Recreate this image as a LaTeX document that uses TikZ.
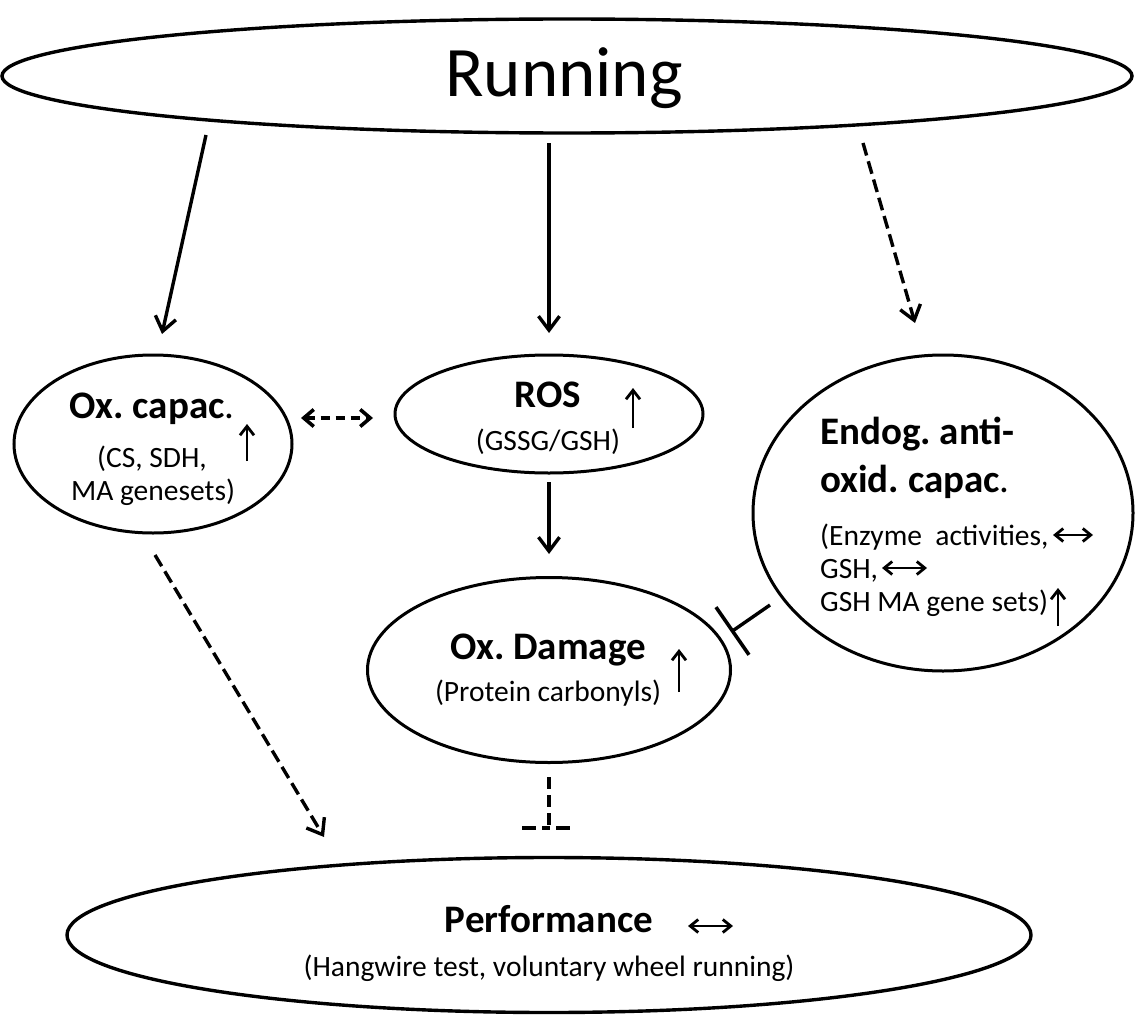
\documentclass[tikz,border=0pt]{standalone}
\usepackage{fontspec}
\setmainfont{Carlito}
\usetikzlibrary{shapes.geometric,arrows.meta}
\frenchspacing
\begin{document}
\begin{tikzpicture}[x=1pt,y=-1pt,
  ell/.style={ellipse, draw, line width=3pt, inner sep=0pt},
  arr/.style={line width=3.4pt, -{Straight Barb[length=14pt,width=21pt]}},
  darr/.style={arr, dash pattern=on 13pt off 6pt},
  biarr/.style={line width=3.6pt, dash pattern=on 9pt off 6pt, {Straight Barb[length=10pt,width=17pt]}-{Straight Barb[length=10pt,width=17pt]}},
  up/.style={line width=2.8pt, -{Straight Barb[length=9pt,width=14pt]}},
  lr/.style={line width=2.8pt, {Straight Barb[length=8pt,width=13pt]}-{Straight Barb[length=8pt,width=13pt]}},
  ttl/.style={font=\fontsize{39}{42}\selectfont\bfseries, inner sep=0pt, anchor=base},
  sub/.style={font=\fontsize{29.5}{32}\selectfont, inner sep=0pt, anchor=base},
]
\useasboundingbox (0,0) rectangle (1137,1014);
% ellipses
\node[ell, line width=3.4pt, minimum width=1130pt, minimum height=114pt] (running) at (567,76) {};
\node[ell, minimum width=278pt, minimum height=178pt] (oxcap) at (153,444) {};
\node[ell, minimum width=308pt, minimum height=118pt] (ros) at (549,414) {};
\node[ell, minimum width=380pt, minimum height=316pt] (endog) at (943,513) {};
\node[ell, minimum width=363pt, minimum height=185pt] (oxd) at (549,670) {};
\node[ell, line width=3.4pt, minimum width=964pt, minimum height=155pt] (perf) at (549,935) {};
% texts
\node[inner sep=0pt, anchor=base, font=\fontsize{71}{75}\selectfont] (trun) at (564,97) {Running};
\node[ttl] (toxcap) at (152,418) {Ox. capac\textmd{.}};
\node[sub] (toxcap2) at (152,467) {(CS, SDH,};
\node[sub] (toxcap3) at (153,500) {MA genesets)};
\node[ttl] (tros) at (548,407) {ROS};
\node[sub] (tros2) at (548,450) {(GSSG/GSH)};
\node[ttl, anchor=base west] (tend1) at (820,444) {Endog. anti-};
\node[ttl, anchor=base west] (tend2) at (820,492) {oxid. capac\textmd{.}};
\node[sub, anchor=base west] (tend3) at (820,545) {(Enzyme\ \ activities,};
\node[sub, anchor=base west] (tend4) at (820,578) {GSH,};
\node[sub, anchor=base west] (tend5) at (820,611) {GSH MA gene sets)};
\node[ttl] (toxd) at (548,659) {Ox. Damage};
\node[sub] (toxd2) at (548,701) {(Protein carbonyls)};
\node[ttl] (tperf) at (549,932) {Performance};
\node[sub] (tperf2) at (549,976) {(Hangwire test, voluntary wheel running)};
% small level arrows
\draw[up] (247,461) -- (247,424);
\draw[up] (633,428) -- (633,388);
\draw[up] (679,692) -- (679,649);
\draw[up] (1058,626) -- (1058,588);
\draw[lr] (1053,535) -- (1093,535);
\draw[lr] (882,568) -- (927,568);
\draw[lr] (688,926) -- (733,926);
% connectors
\coordinate (r1) at (206,135);
\coordinate (c1) at (162,334);
\coordinate (r2) at (549,143);
\coordinate (c2) at (549,333);
\coordinate (r3) at (863,143);
\coordinate (c3) at (915,323);
\draw[arr] (r1) -- (c1);
\draw[arr] (r2) -- (c2);
\draw[darr] (r3) -- (c3);
\coordinate (b1) at (301,418);
\coordinate (b2) at (373,418);
\draw[biarr] (b1) -- (b2);
\coordinate (rd1) at (549,482);
\coordinate (rd2) at (549,554);
\draw[arr] (rd1) -- (rd2);
\coordinate (op1) at (155,555);
\coordinate (op2) at (324,837);
\draw[darr] (op1) -- (op2);
\coordinate (in1) at (770,605);
\coordinate (in2) at (731,632);
\draw[line width=3.4pt, -{Bar[width=58pt,line width=3.6pt]}] (in1) -- (in2);
\coordinate (dd1) at (549,777);
\coordinate (dd2) at (549,828);
\coordinate (db1) at (522,828);
\coordinate (db2) at (575,828);
\draw[line width=3.6pt, dash pattern=on 12pt off 6pt] (dd1) -- (dd2);
\draw[line width=4pt, dash pattern=on 14pt off 6pt on 8pt off 6pt on 14pt] (db1) -- (db2);
\end{tikzpicture}
\end{document}
